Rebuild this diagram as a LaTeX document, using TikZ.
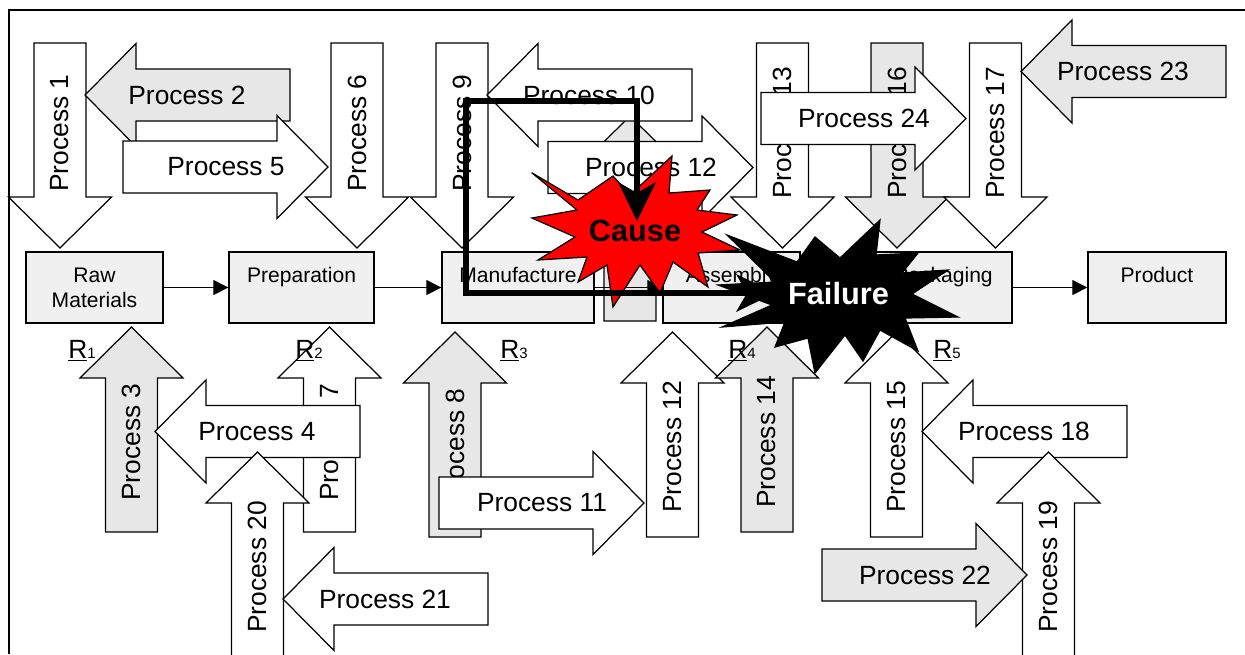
\documentclass[tikz,border=0pt]{standalone}
\usepackage{fontspec}
\setmainfont{Liberation Sans}
\usepackage{tikz}
\usepackage{xcolor}
\usetikzlibrary{arrows.meta}
\definecolor{boxgray}{gray}{0.94}
\definecolor{arrowgray}{gray}{0.905}
\tikzset{
    block-arrow/.style = {draw=black, line width=0.7pt},
    process-label/.style = {font=\fontsize{15}{18}\selectfont, inner sep=0pt},
    stage-box/.style = {draw=black, fill=boxgray, line width=0.8pt, rectangle, minimum width=2.74cm, minimum height=1.42cm, inner sep=0pt, align=center, font=\fontsize{12}{14.2}\selectfont},
    flow-arrow/.style = {line width=0.75pt, -{Triangle[length=0.3cm, width=0.3cm]}},
    r-label/.style = {font=\fontsize{15}{18}\selectfont, inner sep=0pt, anchor=base west},
    burst/.style = {draw=black, line width=0.7pt},
    burst-text/.style = {font=\fontsize{17.5}{21}\selectfont\bfseries, inner sep=0pt},
    cause-line/.style = {line width=3.8pt, {Stealth[length=0.78cm, width=0.76cm, inset=0.22cm, line width=0.5pt]}-{Stealth[length=0.78cm, width=0.76cm, inset=0.22cm, line width=0.5pt]}},
}
\newcommand{\arrowshape}[3][white]{%
    \draw[block-arrow, fill=#1, shift={#2}, rotate=#3] (0,-26) -- (154,-26) -- (154,-51.5) -- (205,0) -- (154,51.5) -- (154,26) -- (0,26) -- cycle;}
\newcommand{\blockarrow}[6][white]{%
    \arrowshape[#1]{#2}{#3}
    \path[shift={#2}, rotate=#3] (#4,0) node[process-label, rotate={mod(#3,180)}] (#5) {#6};}

\begin{document}
\begin{tikzpicture}[x=0.02cm, y=-0.02cm]
\useasboundingbox (0,0) rectangle (1245,654);
\draw[line width=1pt] (9,654) |- (1245,10);

\blockarrow{(60,43)}{270}{90}{p1}{Process 1}
\blockarrow{(357,43)}{270}{90}{p6}{Process 6}
\blockarrow{(462,43)}{270}{90}{p9}{Process 9}
\blockarrow{(782.5,43)}{270}{90}{p13}{Process 13}
\blockarrow[arrowgray]{(897,43)}{270}{90}{p16}{Process 16}
\blockarrow{(995.5,43)}{270}{90}{p17}{Process 17}
\blockarrow[arrowgray]{(290,95)}{180}{103}{p2}{Process 2}
\arrowshape[arrowgray]{(630,321)}{90}
\blockarrow{(692,95)}{180}{103}{p10}{Process 10}
\blockarrow{(548,167.5)}{0}{103}{p12a}{Process 12}
\blockarrow{(123,167)}{0}{103}{p5}{Process 5}
\blockarrow[arrowgray]{(1226,71.5)}{180}{103}{p23}{Process 23}
\blockarrow{(761,118.5)}{0}{103}{p24}{Process 24}

\blockarrow[arrowgray]{(131.5,532)}{90}{90}{p3}{Process 3}
\blockarrow{(329.5,532)}{90}{90}{p7}{Process 7}
\blockarrow{(360,431.5)}{180}{103}{p4}{Process 4}
\blockarrow{(257.5,657)}{90}{90}{p20}{Process 20}
\blockarrow{(488,599)}{180}{103}{p21}{Process 21}
\blockarrow[arrowgray]{(455,537)}{90}{90}{p8}{Process 8}
\blockarrow{(439,503)}{0}{103}{p11}{Process 11}
\blockarrow{(672.5,537)}{90}{90}{p12b}{Process 12}
\blockarrow[arrowgray]{(767,532)}{90}{90}{p14}{Process 14}
\blockarrow{(896.5,537)}{90}{90}{p15}{Process 15}
\blockarrow{(1127,431.5)}{180}{103}{p18}{Process 18}
\blockarrow{(1048.5,657)}{90}{90}{p19}{Process 19}
\blockarrow[arrowgray]{(822,575)}{0}{103}{p22}{Process 22}

\node[stage-box] (raw) at (94.5,287.5) {Raw\\Materials};
\node[stage-box, minimum width=2.9cm] (prep) at (301.5,287.5) {Preparation\\\mbox{}};
\node[stage-box, minimum width=3.04cm] (manuf) at (518,287.5) {Manufacture\\\mbox{}};
\node[stage-box] (asm) at (731.5,287.5) {Assembly\\\mbox{}};
\node[stage-box] (pack) at (943.5,287.5) {Packaging\\\mbox{}};
\node[stage-box, minimum width=2.76cm] (prod) at (1157,287.5) {Product\\\mbox{}};
\draw[flow-arrow] (raw) -- (prep);
\draw[flow-arrow] (prep) -- (manuf);
\draw[flow-arrow] (manuf) -- (asm);
\draw[flow-arrow] (asm) -- (pack);
\draw[flow-arrow] (pack) -- (prod);

\node[r-label] (r1) at (68,358) {\underline{R}{\fontsize{8.5}{10}\selectfont 1}};
\node[r-label] (r2) at (295,358) {\underline{R}{\fontsize{8.5}{10}\selectfont 2}};
\node[r-label] (r3) at (500,358) {\underline{R}{\fontsize{8.5}{10}\selectfont 3}};
\node[r-label] (r4) at (728,358) {\underline{R}{\fontsize{8.5}{10}\selectfont 4}};
\node[r-label] (r5) at (933,358) {\underline{R}{\fontsize{8.5}{10}\selectfont 5}};

\draw[burst, fill=red] (531.7,172.7) -- (578,200) -- (613,176) -- (630,195) -- (672,156) -- (669,193) -- (710,190) -- (697,210) -- (737,215) -- (702,232) -- (740,250) -- (698,253) -- (708,287) -- (673,262) -- (660,293) -- (640,265) -- (613,307) -- (607,265) -- (578,282) -- (587,257) -- (538,260) -- (575,237) -- (532,218) -- (577,210) -- cycle;
\node[burst-text] (cause) at (635,231) {Cause};
\draw[burst, fill=black] (727,235) -- (797,262) -- (815,237) -- (840,258) -- (880,220) -- (876,255) -- (918,253) -- (902,273) -- (948,270) -- (912,294) -- (958,317) -- (905,318) -- (918,351) -- (880,330) -- (863,361) -- (845,335) -- (815,373) -- (808,338) -- (775,347) -- (785,322) -- (722,327) -- (772,305) -- (718,285) -- (775,282) -- cycle;
\node[burst-text, text=white] (failure) at (838.5,293.5) {Failure};

\coordinate (cause-tip) at (637,221);
\coordinate (failure-tip) at (775,293);
\draw[cause-line] (cause-tip) |- (466,101) |- (failure-tip);
\end{tikzpicture}
\end{document}
